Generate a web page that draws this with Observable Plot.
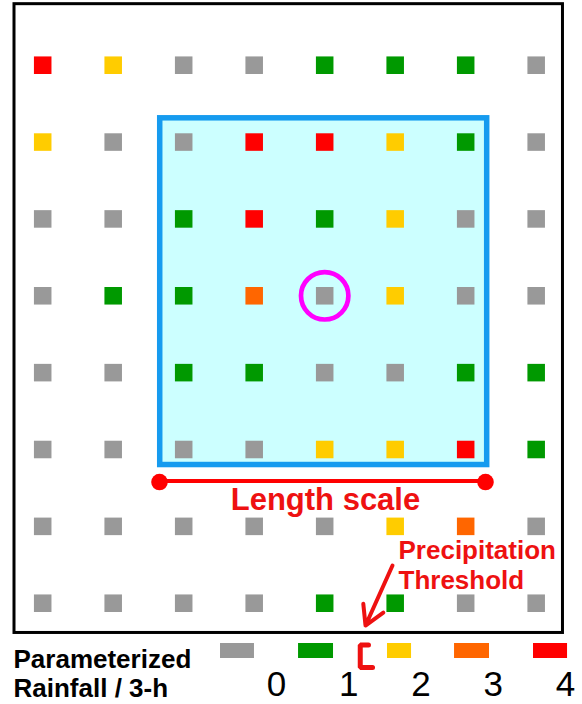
<!DOCTYPE html>
<html>
<head>
<meta charset="utf-8">
<script src="https://cdn.jsdelivr.net/npm/d3@7"></script>
<script src="https://cdn.jsdelivr.net/npm/@observablehq/plot@0.6"></script>
<style>
  html, body { margin: 0; padding: 0; background: #fff; }
  #chart { width: 582px; }
  #chart svg { display: block; }
</style>
</head>
<body>
<div id="chart"></div>
<script>
// ---- data: parameterized rainfall class of each grid point (0 = below 0 ... 4 = above 4) ----
const row1 = [4, 2, 0, 0, 1, 1, 1, 0];
const row2 = [2, 0, 0, 4, 4, 2, 1, 0];
const row3 = [0, 0, 1, 4, 1, 2, 0, 0];
const row4 = [0, 1, 1, 3, 0, 2, 0, 0];
const row5 = [0, 0, 1, 1, 0, 0, 1, 1];
const row6 = [0, 0, 0, 0, 2, 2, 4, 1];
const row7 = [0, 0, 0, 0, 0, 2, 3, 0];
const row8 = [0, 0, 0, 0, 1, 1, 0, 0];
const classes = [0, 1, 2, 3, 4];
const classColors = ["#999999", "#009900", "#FFCC00", "#FF6600", "#FF0000"];
const thresholdTicks = [0, 1, 2, 3, 4];
const centerPoint = {col: 4, row: 3};

// ---- layout (grid units: column / row index) ----
const legendSwatchSpans = [[-0.775, -0.305], [0.305, 0.789], [1.536, 1.869], [2.464, 2.948], [3.557, 4.028]];

const rows = [row1, row2, row3, row4, row5, row6, row7, row8];
const cells = rows.flatMap((r, ri) => r.map((v, ci) => ({col: ci, row: ri, cls: v})));
const colorScale = {type: "ordinal", domain: classes, range: classColors};
const font = "'Liberation Sans', Arial, sans-serif";
const red = "#EE1111";

const main = Plot.plot({
  width: 582, height: 636,
  margin: 0,
  style: {fontFamily: font, background: "white"},
  x: {domain: [-0.5986, 7.657], range: [0, 582], axis: null},
  y: {domain: [-0.8418, 7.433], range: [0, 636], axis: null},
  color: colorScale,
  marks: [
    // outer frame
    Plot.rect([0], {x1: -0.400, x2: 7.380, y1: -0.794, y2: 7.387, fill: "none", stroke: "black", strokeWidth: 3}),
    // neighborhood box
    Plot.rect([0], {x1: 1.667, x2: 6.305, y1: 0.691, y2: 5.202, fill: "#CCFFFF", stroke: "#169BEF", strokeWidth: 5.5}),
    // grid points
    Plot.dot(cells, {x: "col", y: "row", fill: "cls", symbol: "square", r: 9.9}),
    // centre point circle
    Plot.dot([centerPoint], {x: "col", y: "row", r: 23.7, stroke: "#FF00FF", strokeWidth: 4.7, fill: "none"}),
    // length scale
    Plot.link([0], {x1: 1.657, x2: 6.281, y1: 5.410, y2: 5.410, stroke: "#FF0000", strokeWidth: 4}),
    Plot.dot([1.657, 6.281], {x: d => d, y: 5.423, r: 8.3, fill: "#FF0000"}),
    Plot.text(["Length scale"], {x: 4.011, y: 5.79, text: d => d, textAnchor: "middle", lineAnchor: "bottom",
      fontSize: 31, fontWeight: "bold", fill: red}),
    // precipitation threshold annotation
    Plot.text(["Precipitation\nThreshold"], {x: 5.047, y: 6.821, text: d => d, textAnchor: "start", lineAnchor: "bottom",
      fontSize: 26, fontWeight: "bold", fill: red, lineHeight: 1.19}),
    Plot.arrow([0], {x1: 4.962, y1: 6.509, x2: 4.579, y2: 7.290, stroke: red, strokeWidth: 4, headLength: 20, headAngle: 60})
  ]
});

const legendItems = classes.map((c, i) => ({cls: c, x1: legendSwatchSpans[i][0], x2: legendSwatchSpans[i][1]}));
const bracket = [{x: 1.273, y: 8.5}, {x: 1.159, y: 8.5}, {x: 1.159, y: 31}, {x: 1.329, y: 31}];

const legend = Plot.plot({
  width: 582, height: 68,
  margin: 0,
  style: {fontFamily: font, background: "white"},
  x: {domain: [-3.820, 4.235], range: [0, 582], axis: null},
  y: {domain: [0, 68], range: [0, 68], axis: null},
  color: colorScale,
  marks: [
    Plot.rect(legendItems, {x1: "x1", x2: "x2", y1: 7, y2: 22, fill: "cls"}),
    Plot.line(bracket, {x: "x", y: "y", stroke: red, strokeWidth: 5, strokeLinejoin: "miter", curve: "linear"}),
    Plot.axisX(thresholdTicks, {anchor: "top", tickSize: 0, tickPadding: 0, dy: 59, fontSize: 35, label: null}),
    Plot.text(["Parameterized\nRainfall / 3-h"], {x: -3.640, y: 60, text: d => d, textAnchor: "start", lineAnchor: "bottom",
      fontSize: 26, fontWeight: "bold", fill: "black", lineHeight: 1.115})
  ]
});

document.getElementById("chart").append(main, legend);
</script>
</body>
</html>
